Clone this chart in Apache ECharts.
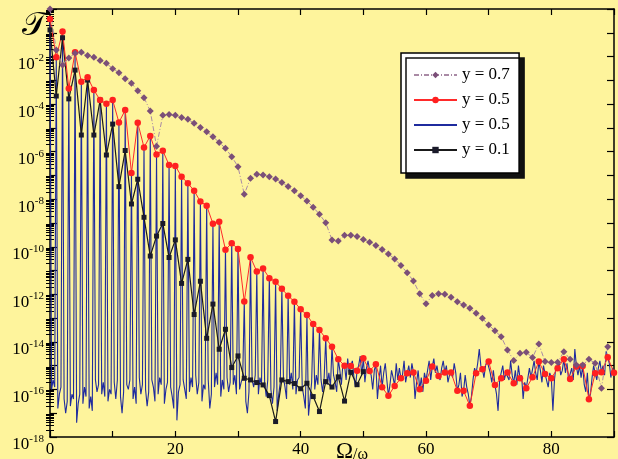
<!DOCTYPE html>
<html>
<head>
<meta charset="utf-8">
<script src="https://cdn.jsdelivr.net/npm/echarts@6/dist/echarts.min.js"></script>
<style>
  html, body { margin: 0; padding: 0; background: #fef49c; }
  #main { width: 618px; height: 459px; }
</style>
</head>
<body>
<div id="main"></div>
<script>
// all values below are log10 exponents
const xMax = 90;
const seriesNames = ['y = 0.7', 'y = 0.5', 'y = 0.5 ', 'y = 0.1'];
const xTickLabels = [0, 20, 40, 60, 80];
const yLabelExps = [-18, -16, -14, -12, -10, -8, -6, -4, -2];

// y = 0.7, diamonds, x = 0..89
const expY07 = [
  0, -1.72, -2.35, -2.06, -1.86, -1.82, -1.96, -2.03, -2.17, -2.28,
  -2.51, -2.68, -2.93, -3.12, -3.44, -3.73, -4.29, -5.77, -4.47, -4.44,
  -4.47, -4.56, -4.64, -4.81, -4.98, -5.16, -5.37, -5.61, -5.86, -6.21,
  -6.63, -7.79, -7.12, -6.95, -6.98, -7.05, -7.15, -7.30, -7.47, -7.64,
  -7.85, -8.07, -8.34, -8.63, -8.99, -9.71, -9.76, -9.52, -9.52, -9.57,
  -9.69, -9.81, -9.95, -10.11, -10.30, -10.51, -10.79, -11.09, -11.44, -11.98,
  -12.40, -12.05, -11.98, -12.00, -12.12, -12.31, -12.45, -12.59, -12.80, -13.01,
  -13.29, -13.53, -13.78, -14.34, -14.78, -14.48, -14.44, -14.66, -14.09, -14.83,
  -14.87, -14.86, -14.41, -14.73, -14.97, -14.97, -14.73, -14.90, -15.95, -14.20
];

// y = 0.5, red circles at whole numbers, x = 0..90
const expY05 = [
  -0.42, -2.03, -0.95, -3.34, -1.82, -3.06, -2.87, -3.41, -3.83, -3.98,
  -3.83, -4.77, -4.25, -6.90, -4.78, -5.82, -5.34, -6.12, -5.96, -6.56,
  -6.60, -7.05, -7.33, -7.64, -8.10, -8.27, -9.03, -8.95, -10.12, -9.85,
  -10.09, -12.30, -10.44, -11.04, -10.91, -11.32, -11.47, -11.77, -12.06, -12.31,
  -12.63, -12.87, -13.25, -13.50, -13.85, -14.20, -14.73, -15.00, -15.01, -15.21,
  -14.69, -15.22, -14.94, -15.91, -16.27, -15.85, -15.53, -15.32, -15.29, -15.99,
  -15.63, -15.04, -15.43, -15.29, -15.29, -16.06, -16.06, -16.69, -15.32, -15.15,
  -14.83, -15.81, -15.53, -15.29, -15.74, -15.53, -15.95, -15.49, -14.83, -15.35,
  -15.53, -15.11, -14.73, -15.56, -15.04, -15.01, -16.41, -15.32, -15.28, -14.65,
  -15.30
];

// y = 0.5, blue line between whole numbers: n+0.25, n+0.5, n+0.75 for n = 0..89
const expY05Between = [
  -16.0, -15.6, -15.9,  -16.8, -16.2, -15.9,  -16.4, -17.0, -16.5,  -16.7, -16.2, -16.4,
  -17.4, -16.6, -16.2,  -16.6, -15.9, -16.3,  -16.8, -16.3, -16.9,  -15.6, -16.1, -15.8,
  -16.2, -15.7, -16.3,  -16.5, -16.0, -16.2,  -15.7, -16.4, -15.6,  -16.3, -17.0, -16.1,
  -15.8, -16.0, -15.6,  -16.4, -15.9, -16.6,  -15.5, -16.2, -15.8,  -16.0, -16.7, -16.1,
  -15.6, -15.9, -16.5,  -16.2, -15.5, -15.8,  -16.6, -16.0, -15.7,  -15.9, -16.3, -16.8,
  -17.3, -16.1, -15.8,  -15.6, -16.0, -16.4,  -16.1, -15.5, -15.9,  -15.4, -16.2, -15.7,
  -16.5, -15.8, -16.0,  -15.6, -16.8, -16.2,  -15.9, -15.3, -15.8,  -16.3, -15.6, -16.0,
  -15.5, -16.1, -15.7,  -15.8, -15.4, -16.2,  -16.0, -15.7, -15.5,  -16.5, -17.0, -16.1,
  -15.6, -15.9, -15.4,  -16.2, -15.5, -15.8,  -15.7, -16.3, -15.6,  -16.0, -16.6, -15.9,
  -16.9, -16.2, -15.7,  -15.5, -15.9, -16.4,  -15.8, -15.3, -16.0,  -16.2, -15.6, -15.5,
  -15.9, -16.3, -16.8,  -17.1, -16.4, -15.7,  -16.0, -15.4, -15.8,  -15.6, -16.1, -15.5,
  -15.8, -15.3, -15.9,  -15.4, -15.7, -16.1,  -15.2, -15.8, -14.9,  -15.6, -14.7, -15.3,
  -14.8, -15.5, -15.9,  -15.0, -14.6, -15.4,  -15.7, -15.1, -14.8,  -15.4, -16.0, -15.2,
  -16.4, -15.6, -15.0,  -15.3, -14.9, -15.6,  -15.8, -15.2, -15.5,  -14.9, -15.6, -15.1,
  -15.4, -14.8, -15.7,  -15.0, -15.5, -14.9,  -16.4, -15.7, -15.2,  -15.5, -16.1, -15.3,
  -15.2, -14.8, -15.6,  -14.7, -15.3, -15.0,  -15.6, -15.1, -14.8,  -15.0, -15.7, -15.4,
  -15.5, -14.9, -15.3,  -15.8, -15.3, -16.3,  -15.4, -15.9, -16.2,  -16.3, -15.6, -15.1,
  -14.9, -14.3, -15.0,  -15.5, -15.0, -14.8,  -15.3, -15.7, -15.2,  -16.2, -16.9, -15.6,
  -15.0, -15.6, -15.3,  -15.6, -14.8, -15.4,  -15.2, -15.8, -15.0,  -15.4, -16.4, -15.7,
  -15.9, -15.1, -15.5,  -14.8, -15.3, -15.6,  -15.2, -15.7, -15.0,  -15.4, -15.9, -15.3,
  -16.9, -15.6, -15.0,  -14.9, -15.4, -15.2,  -15.3, -14.9, -15.6,  -15.1, -15.6, -14.3,
  -15.4, -15.0, -15.5,  -15.8, -16.1, -15.3,  -16.2, -15.5, -15.0,  -15.6, -15.1, -14.8,
  -15.0, -15.4, -14.4,  -14.9, -15.5, -15.1
];

// y = 0.1, squares, x = 0..50
const expY01 = [
  -0.88, -3.66, -1.21, -3.78, -2.57, -5.30, -2.99, -5.30, -3.83, -6.14,
  -4.84, -7.47, -5.95, -8.20, -7.16, -8.76, -10.39, -9.55, -9.02, -10.45,
  -9.71, -11.54, -10.53, -12.85, -11.45, -13.85, -12.41, -14.31, -13.47, -15.08,
  -14.59, -15.53, -15.60, -15.71, -15.81, -16.26, -17.35, -15.60, -15.67, -15.75,
  -15.97, -15.74, -16.30, -16.93, -15.67, -15.90, -15.47, -16.49, -15.28, -15.80,
  -15.25
];

const pow = e => Math.pow(10, e);
const onWhole = arr => arr.map((e, i) => [i, pow(e)]);

const blueData = [];
for (let n = 0; n < xMax; n++) {
  blueData.push([n, pow(expY05[n])]);
  for (let k = 0; k < 3; k++) {
    blueData.push([n + (k + 1) / 4, pow(expY05Between[n * 3 + k])]);
  }
}
blueData.push([xMax, pow(expY05[xMax])]);

const majorTicks = [];
const minorTicks = [];
for (let e = -18; e <= 0; e++) {
  majorTicks.push(pow(e));
  if (e < 0) for (let m = 2; m <= 9; m++) minorTicks.push(m * pow(e));
}

const serif = 'Liberation Serif';
const black = { color: '#000', width: 1.5 };

const yBase = {
  type: 'log', logBase: 10, min: 1e-18, max: 1,
  splitLine: { show: false },
  axisLine: { show: true, onZero: false, lineStyle: black }
};
const majorTick = { inside: true, length: 7, customValues: majorTicks, lineStyle: { color: '#000', width: 1.2 } };
const minorTick = { inside: true, length: 4, customValues: minorTicks, lineStyle: { color: '#000', width: 1 } };

const xBase = {
  type: 'value', min: 0, max: xMax, interval: 10,
  splitLine: { show: false },
  axisLine: { onZero: false, lineStyle: black },
  axisTick: { inside: true, length: 6, lineStyle: { color: '#000', width: 1.2 } }
};

let myChart = echarts.init(document.getElementById('main'));

let option = {
  animation: false,
  backgroundColor: '#fef49c',
  grid: { left: 50, right: 4, top: 9, bottom: 22, containLabel: false, outerBoundsMode: 'none' },
  xAxis: [
    {
      ...xBase, position: 'bottom',
      axisLabel: {
        color: '#000', fontFamily: serif, fontSize: 17, margin: 4,
        formatter: v => (xTickLabels.indexOf(v) >= 0 ? String(v) : '')
      }
    },
    { ...xBase, position: 'top', axisLabel: { show: false } }
  ],
  yAxis: [
    {
      ...yBase, position: 'left', axisTick: majorTick,
      axisLabel: {
        customValues: yLabelExps.map(pow),
        margin: 6,
        padding: [13, 0, 0, 0],
        formatter: v => '{b|10}{s|' + Math.round(Math.log10(v)) + '}',
        rich: {
          b: { fontFamily: serif, fontSize: 17, color: '#000', lineHeight: 20, verticalAlign: 'bottom' },
          s: { fontFamily: serif, fontSize: 11, color: '#000', lineHeight: 12, verticalAlign: 'top' }
        }
      }
    },
    { ...yBase, position: 'left', axisLine: { show: false }, axisTick: minorTick, axisLabel: { show: false } },
    { ...yBase, position: 'right', axisTick: majorTick, axisLabel: { show: false } },
    { ...yBase, position: 'right', axisLine: { show: false }, axisTick: minorTick, axisLabel: { show: false } }
  ],
  legend: {
    data: seriesNames,
    orient: 'vertical',
    left: 401, top: 53,
    padding: [13, 5, 14, 12],
    itemWidth: 43, itemHeight: 8, itemGap: 7,
    selectedMode: false,
    textStyle: { fontFamily: serif, fontSize: 17, color: '#000', lineHeight: 18 },
    backgroundColor: '#fff',
    borderColor: '#000', borderWidth: 1.5, borderRadius: 0,
    shadowColor: '#111', shadowBlur: 0, shadowOffsetX: 5, shadowOffsetY: 5
  },
  graphic: [
    {
      type: 'text', left: 22, top: 10,
      style: { text: '\u{1D4AF}', fontFamily: 'DejaVu Serif', fontSize: 33, fill: '#000' }
    },
    {
      type: 'text', left: 336, top: 440,
      style: {
        text: '{a|\u03A9}{b|/\u03C9}',
        rich: {
          a: { fontFamily: serif, fontSize: 23, fill: '#000', verticalAlign: 'bottom' },
          b: { fontFamily: serif, fontSize: 16, fill: '#000', verticalAlign: 'bottom' }
        }
      }
    }
  ],
  series: [
    {
      name: seriesNames[2], type: 'line', data: blueData,
      symbol: 'none', lineStyle: { color: '#1f2b9e', width: 1.1 },
      itemStyle: { color: '#1f2b9e', opacity: 0 }
    },
    {
      name: seriesNames[3], type: 'line', data: onWhole(expY01),
      symbol: 'rect', symbolSize: 5,
      lineStyle: { color: '#1a1a1a', width: 1.2 }, itemStyle: { color: '#1a1a2a' }
    },
    {
      name: seriesNames[1], type: 'line', data: onWhole(expY05),
      symbol: 'circle', symbolSize: 6.5,
      lineStyle: { color: '#ff2a2a', width: 1 }, itemStyle: { color: '#ff2020' }
    },
    {
      name: seriesNames[0], type: 'line', data: onWhole(expY07),
      symbol: 'diamond', symbolSize: 7,
      lineStyle: { color: '#a98aa5', width: 1, type: [5, 2, 1, 2] }, itemStyle: { color: '#7b4f78' }
    }
  ]
};

option && myChart.setOption(option);
</script>
</body>
</html>
